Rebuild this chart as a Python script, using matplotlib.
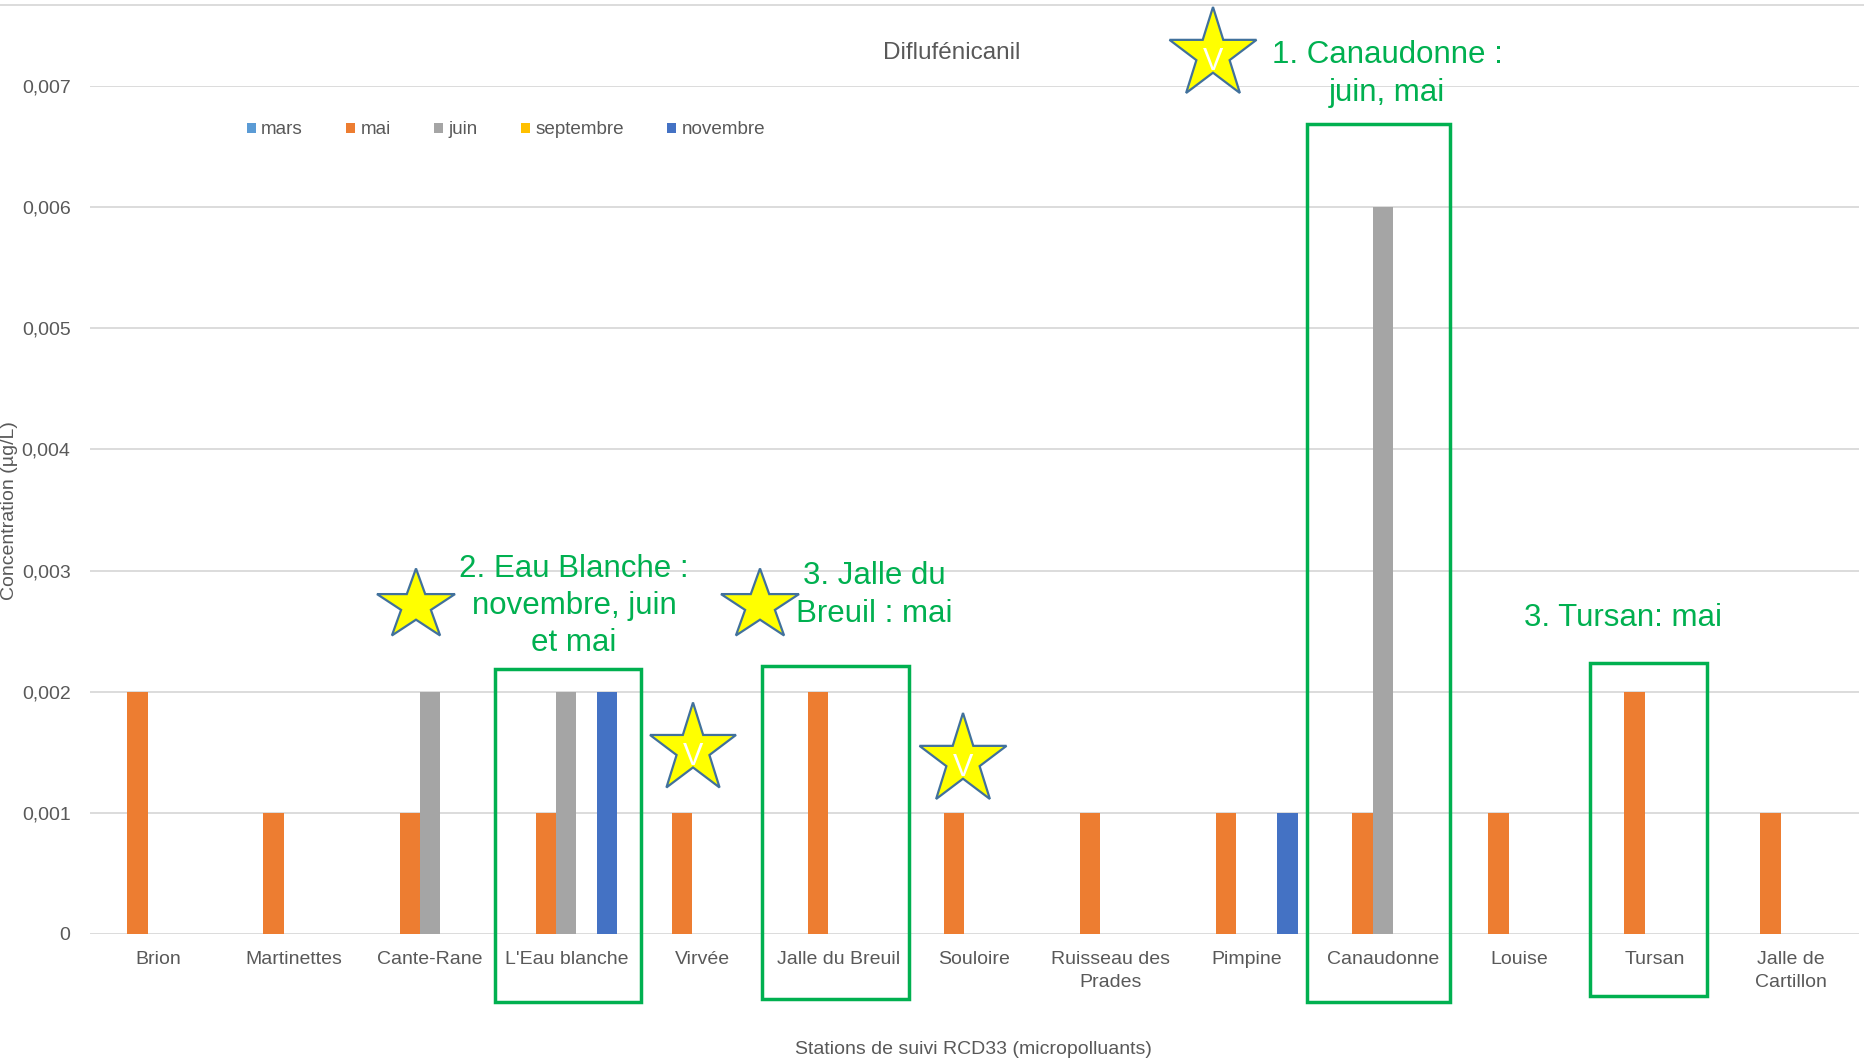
import numpy as np
import matplotlib
matplotlib.use('Agg')
import matplotlib.pyplot as plt
from matplotlib.patches import Patch, Rectangle, Polygon
from matplotlib.lines import Line2D

plt.rcParams['font.family'] = ['Liberation Sans', 'DejaVu Sans']

# données (µg/L)
stations = ['Brion', 'Martinettes', 'Cante-Rane', "L'Eau blanche", 'Virvée',
            'Jalle du Breuil', 'Souloire', 'Ruisseau des\nPrades', 'Pimpine',
            'Canaudonne', 'Louise', 'Tursan', 'Jalle de\nCartillon']
nan = np.nan
mars = [nan] * 13
mai = [0.002, 0.001, 0.001, 0.001, 0.001, 0.002, 0.001, 0.001, 0.001, 0.001, 0.001, 0.002, 0.001]
juin = [nan, nan, 0.002, 0.002, nan, nan, nan, nan, nan, 0.006, nan, nan, nan]
septembre = [nan] * 13
novembre = [nan, nan, nan, 0.002, nan, nan, nan, nan, 0.001, nan, nan, nan, nan]

series_names = ['mars', 'mai', 'juin', 'septembre', 'novembre']
series_values = [mars, mai, juin, septembre, novembre]
colors = ['#5B9BD5', '#ED7D31', '#A5A5A5', '#FFC000', '#4472C4']
y_ticks = [0, 0.001, 0.002, 0.003, 0.004, 0.005, 0.006, 0.007]

W, H = 1864, 1060
GREY = '#595959'
GREEN = '#00B050'


def fx(x):
    return x / W


def fy(y):
    return 1 - y / H


fig = plt.figure(figsize=(W / 100, H / 100), dpi=100)
ax = fig.add_axes([fx(90), fy(934), 1769 / W, 848 / H])

x = np.arange(len(stations))
width = 0.15
for i, (vals, col) in enumerate(zip(series_values, colors)):
    ax.bar(x + (i - 2) * width, np.nan_to_num(vals), width=width, color=col)

ax.set_xlim(-0.5, len(stations) - 0.5)
ax.set_ylim(0, 0.007)
ax.set_yticks(y_ticks)
ax.set_yticklabels([('%g' % v).replace('.', ',') if v else '0' for v in y_ticks])
ax.set_xticks(x)
ax.set_xticklabels(stations, linespacing=1.45)
ax.tick_params(axis='both', length=0, labelsize=14, labelcolor=GREY)
ax.tick_params(axis='y', pad=14)
ax.tick_params(axis='x', pad=12.5)
ax.yaxis.grid(True, color='#D9D9D9', lw=1.3)
ax.set_axisbelow(True)
for s in ax.spines.values():
    s.set_visible(False)

# titres
fig.text(fx(952), fy(53), 'Diflufénicanil', fontsize=17.5, color=GREY, ha='center', va='center')
fig.text(fx(973), fy(1049), 'Stations de suivi RCD33 (micropolluants)', fontsize=14, color=GREY,
         ha='center', va='center')
fig.text(fx(10), fy(511), 'Concentration (µg/L)', fontsize=14, color=GREY, rotation=90,
         ha='center', va='center')

# légende
handles = [Patch(facecolor=c, edgecolor='none') for c in colors]
fig.legend(handles, series_names, loc='center left', bbox_to_anchor=(fx(247), fy(130)),
           ncol=5, frameon=False, fontsize=13.6, labelcolor=GREY, handlelength=0.45,
           handleheight=0.45, handletextpad=0.3, columnspacing=2.3, borderpad=0,
           borderaxespad=0)

# ligne du cadre en haut
fig.add_artist(Line2D([0, 1], [fy(5), fy(5)], transform=fig.transFigure, color='#D9D9D9', lw=1.3))

# cadres verts
boxes = [(495, 669, 641, 1002), (762, 666, 909, 999), (1307, 124, 1450, 1002), (1590, 663, 1707, 996)]
for x0, y0, x1, y1 in boxes:
    fig.add_artist(Rectangle((fx(x0), fy(y1)), (x1 - x0) / W, (y1 - y0) / H, transform=fig.transFigure,
                             fill=False, edgecolor=GREEN, lw=2.5))

# textes verts
notes = [(1387, 74, '1. Canaudonne :\njuin, mai'),
         (574, 606, '2. Eau Blanche :\nnovembre, juin\net mai'),
         (874, 595, '3. Jalle du\nBreuil : mai'),
         (1623, 618, '3. Tursan: mai')]
for nx, ny, txt in notes:
    fig.text(fx(nx), fy(ny), txt, fontsize=22.5, color=GREEN, ha='center', va='center',
             linespacing=1.32, multialignment='center')


# étoiles
def star(cx, cy, w, h, letter=False):
    k = np.arange(10)
    ang = np.deg2rad(90 + 36 * k)
    r = np.where(k % 2 == 0, 1.0, 0.382)
    sx = r * np.cos(ang) / 0.951 * w / 2
    sy = (r * np.sin(ang) - 0.0955) / 0.9045 * h / 2
    pts = np.column_stack([fx(cx + sx), fy(cy - sy)])
    fig.add_artist(Polygon(pts, closed=True, transform=fig.transFigure, facecolor='#FFFF00',
                           edgecolor='#41719C', lw=1.6))
    if letter:
        fig.text(fx(cx), fy(cy + 12), 'V', color='white', fontsize=22, ha='center', va='center')


star(1213, 50, 87, 86, True)
star(416, 602, 78, 67)
star(760, 602, 78, 67)
star(693, 745, 86, 85, True)
star(963, 756, 87, 86, True)

fig.savefig('out.png', dpi=100)
